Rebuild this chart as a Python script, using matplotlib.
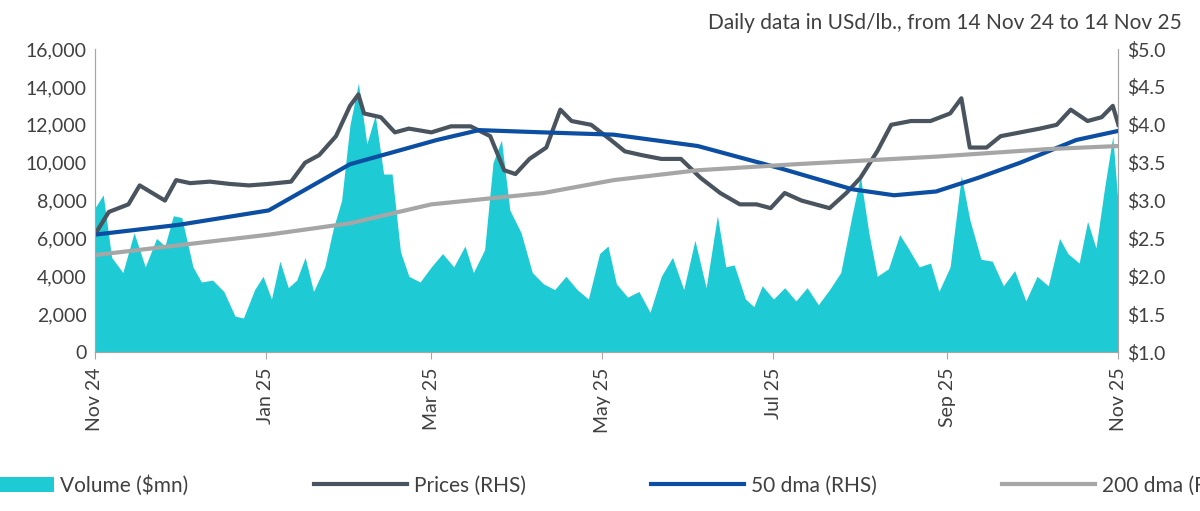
import pandas as pd
import matplotlib.pyplot as plt
import matplotlib.ticker as mticker

plt.rcParams['font.family'] = ['Lato', 'DejaVu Sans']

start = pd.Timestamp("2024-11-14")

# Volume ($mn), day offset from 14 Nov 24
vol_days = [0, 3, 6, 10, 14, 18, 22, 25, 28, 31, 35, 38, 42, 46, 50, 53, 57, 60, 63, 66, 69, 72, 75, 78,
            82, 85, 88, 91, 94, 97, 100, 103, 106, 109, 112, 116, 120, 124, 128, 132, 135, 139, 142, 145,
            148, 152, 156, 160, 164, 168, 172, 176, 180, 183, 186, 190, 194, 198, 202, 206, 210, 214, 218,
            222, 225, 228, 232, 235, 238, 242, 246, 250, 254, 258, 262, 266, 270, 273, 276, 279, 283, 287,
            290, 294, 298, 301, 305, 309, 312, 316, 320, 324, 328, 332, 336, 340, 344, 347, 351, 354, 357,
            360, 363, 365]
volume = [7600, 8300, 5000, 4200, 6300, 4500, 6000, 5600, 7200, 7100, 4500, 3700, 3800, 3200, 1900, 1800,
          3300, 4000, 2800, 4800, 3400, 3800, 5000, 3200, 4500, 6500, 8000, 12000, 14200, 11000, 12500,
          9400, 9400, 5300, 4000, 3700, 4500, 5200, 4500, 5600, 4200, 5400, 10000, 11200, 7500, 6300, 4200,
          3600, 3300, 4000, 3300, 2800, 5200, 5600, 3600, 2900, 3200, 2100, 4000, 5000, 3300, 5900, 3400,
          7200, 4500, 4600, 2800, 2400, 3500, 2800, 3400, 2700, 3400, 2500, 3300, 4200, 7200, 9300, 6300,
          4000, 4400, 6200, 5500, 4500, 4700, 3200, 4500, 9300, 7000, 4900, 4800, 3500, 4300, 2700, 4000,
          3500, 6000, 5200, 4700, 6900, 5500, 8600, 11400, 7600]

# Prices (RHS)
price_days = [0, 5, 12, 16, 25, 29, 34, 41, 48, 55, 62, 70, 75, 80, 86, 91, 94, 96, 102, 107, 112, 120,
              127, 134, 141, 146, 150, 155, 161, 166, 170, 177, 184, 189, 195, 202, 209, 216, 223, 230,
              236, 241, 246, 252, 257, 262, 268, 273, 279, 284, 291, 298, 305, 309, 312, 318, 323, 330,
              337, 343, 348, 354, 359, 363, 365]
prices = [2.55, 2.85, 2.95, 3.2, 3.0, 3.27, 3.23, 3.25, 3.22, 3.2, 3.22, 3.25, 3.5, 3.6, 3.85, 4.25, 4.4,
          4.15, 4.1, 3.9, 3.95, 3.9, 3.98, 3.98, 3.85, 3.4, 3.35, 3.55, 3.7, 4.2, 4.05, 4.0, 3.8, 3.65,
          3.6, 3.55, 3.55, 3.3, 3.1, 2.95, 2.95, 2.9, 3.1, 3.0, 2.95, 2.9, 3.1, 3.3, 3.65, 4.0, 4.05, 4.05,
          4.15, 4.35, 3.7, 3.7, 3.85, 3.9, 3.95, 4.0, 4.2, 4.05, 4.1, 4.25, 4.0]

dma50_days = [0, 30, 62, 91, 122, 137, 160, 185, 215, 245, 270, 285, 300, 315, 330, 350, 365]
dma50 = [2.55, 2.68, 2.87, 3.48, 3.8, 3.93, 3.9, 3.87, 3.72, 3.42, 3.15, 3.07, 3.12, 3.3, 3.5, 3.8, 3.92]

dma200_days = [0, 62, 91, 120, 160, 185, 215, 250, 300, 340, 365]
dma200 = [2.28, 2.55, 2.7, 2.95, 3.1, 3.27, 3.4, 3.48, 3.58, 3.68, 3.72]

tick_labels = ["Nov 24", "Jan 25", "Mar 25", "May 25", "Jul 25", "Sep 25", "Nov 25"]
tick_dates = ["2024-11-14", "2025-01-14", "2025-03-14", "2025-05-14", "2025-07-14", "2025-09-14", "2025-11-14"]

def to_dates(days):
    return start + pd.to_timedelta(days, unit="D")

fig = plt.figure(figsize=(12, 5.11), dpi=100)
ax = fig.add_axes([0.079, 0.311, 0.853, 0.593])
ax2 = ax.twinx()

ax.fill_between(to_dates(vol_days), volume, color="#1ECAD3", lw=0, label="Volume ($mn)")
ax2.plot(to_dates(price_days), prices, color="#4A545E", lw=3, label="Prices (RHS)")
ax2.plot(to_dates(dma50_days), dma50, color="#0B4EA2", lw=3, label="50 dma (RHS)")
ax2.plot(to_dates(dma200_days), dma200, color="#A6A6A6", lw=3, label="200 dma (RHS)")

ax.set_ylim(0, 16000)
ax2.set_ylim(1.0, 5.0)
ax.set_xlim(start, to_dates([365])[0])
ax.yaxis.set_major_locator(mticker.MultipleLocator(2000))
ax.yaxis.set_major_formatter(mticker.FuncFormatter(lambda v, p: f"{v:,.0f}"))
ax2.yaxis.set_major_locator(mticker.MultipleLocator(0.5))
ax2.yaxis.set_major_formatter(mticker.FuncFormatter(lambda v, p: f"${v:.1f}"))

ax.set_xticks(pd.to_datetime(tick_dates))
ax.set_xticklabels(tick_labels, rotation=90)

txt = "#404040"
for a in (ax, ax2):
    for s in ("top",):
        a.spines[s].set_visible(False)
    for s in ("left", "right", "bottom"):
        a.spines[s].set_color("#A6A6A6")
    a.tick_params(labelsize=14, colors=txt, length=0, pad=6)
ax.tick_params(axis="x", length=5, color="#A6A6A6")

fig.text(0.985, 0.955, "Daily data in USd/lb., from 14 Nov 24 to 14 Nov 25",
         ha="right", va="center", fontsize=15, color=txt)

h1, l1 = ax.get_legend_handles_labels()
h2, l2 = ax2.get_legend_handles_labels()
fig.legend(h1 + h2, l1 + l2, loc="center", bbox_to_anchor=(0.5, 0.05), ncol=4, frameon=False,
           fontsize=15, labelcolor=txt, handlelength=4.5, columnspacing=6, handletextpad=0.3)

fig.savefig("out.png", dpi=100)
